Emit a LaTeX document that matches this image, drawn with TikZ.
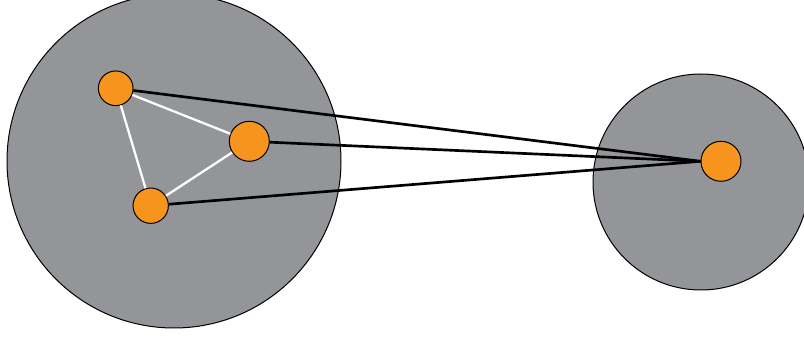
\documentclass[tikz,border=0pt]{standalone}
\usepackage{tikz}
\usepackage{xcolor}

\definecolor{cellgray}{RGB}{147,149,152}
\definecolor{dotorange}{RGB}{247,148,30}

\begin{document}
\begin{tikzpicture}[x=0.75pt,y=0.75pt,yscale=-1,xscale=1,
  cell/.style={draw=black,fill=cellgray,line width=0.75},
  dot/.style={circle,draw=black,fill=dotorange,line width=0.75,inner sep=0pt},
  inner link/.style={draw=white,line width=1.7},
  outer link/.style={draw=black,line width=2}]
\useasboundingbox (0,0) rectangle (804,338);
\clip (0,0) rectangle (804,338);

%Shape: Circle
\draw [cell] (174,161) circle (167);
%Shape: Circle
\draw [cell] (701,182) circle (108);

%Nodes
\node [dot,minimum size=26pt] (a) at (115.7,88.3) {};
\node [dot,minimum size=30pt] (b) at (249.3,141.3) {};
\node [dot,minimum size=26.5pt] (c) at (150.7,205.7) {};
\node [dot,minimum size=30pt] (d) at (721,161.3) {};

%Straight Lines
\draw [inner link] (a) -- (b);
\draw [inner link] (b) -- (c);
\draw [inner link] (c) -- (a);
%Straight Lines
\draw [outer link] (a) -- (d.west);
\draw [outer link] (b) -- (d.west);
\draw [outer link] (c) -- (d.west);

\end{tikzpicture}
\end{document}
